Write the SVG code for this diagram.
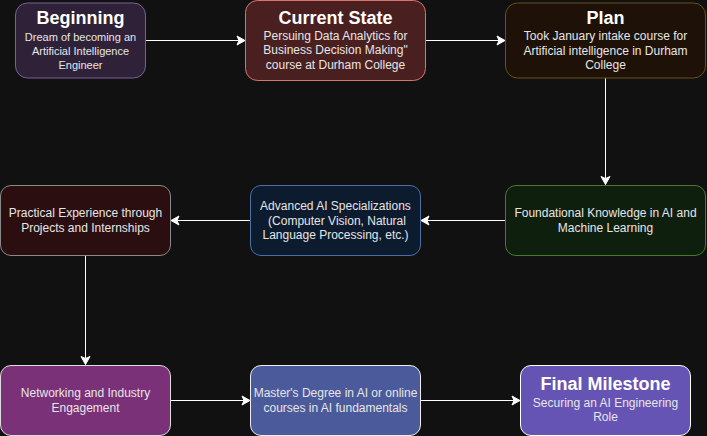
<svg xmlns="http://www.w3.org/2000/svg" width="707" height="436" viewBox="0 0 707 436">
<defs>
<marker id="arr" markerUnits="userSpaceOnUse" markerWidth="12" markerHeight="12" viewBox="-9 -6 12 12" refX="0" refY="0" orient="auto">
<path d="M0,0 L-8,-4.5 L-6,0 L-8,4.5 Z" fill="#ffffff" stroke="#ffffff" stroke-width="1" stroke-linejoin="miter"/>
</marker>
<style>
text{font-family:"Liberation Sans",Arial,Helvetica,sans-serif;text-anchor:middle}
.t{font-size:18px;font-weight:bold;fill:#ffffff}
.s{font-size:12px;fill:#e6e6e6}
.s11{font-size:11px;fill:#e6e6e6}
.c line{stroke:#ffffff;stroke-width:1;fill:none;marker-end:url(#arr)}
rect{stroke-width:1}
</style>
</defs>
<rect x="0" y="0" width="707" height="436" fill="#111111"/>
<g class="c" id="connectors">
<line x1="145.5" y1="40.5" x2="245" y2="40.5"/>
<line x1="425.5" y1="40.5" x2="505" y2="40.5"/>
<line x1="605.5" y1="78" x2="605.5" y2="184.5"/>
<line x1="505.5" y1="220.5" x2="421" y2="220.5"/>
<line x1="250.5" y1="220.5" x2="171" y2="220.5"/>
<line x1="85.5" y1="255.5" x2="85.5" y2="364.5"/>
<line x1="170.5" y1="400.5" x2="250" y2="400.5"/>
<line x1="420.5" y1="400.5" x2="520" y2="400.5"/>
</g>
<g id="n1">
<rect x="15.5" y="3" width="130" height="75" rx="12" fill="#2f2238" stroke="#7d5e9a"/>
<text class="t" x="80.5" y="24">Beginning</text>
<text class="s11" x="80.5" y="40.5">Dream of becoming an</text>
<text class="s11" x="80.5" y="54.8">Artificial Intelligence</text>
<text class="s11" x="80.5" y="69">Engineer</text>
</g>
<g id="n2">
<rect x="245.5" y="0.5" width="180" height="80" rx="12" fill="#4a1f1f" stroke="#d8736e"/>
<text class="t" x="335.5" y="23.5">Current State</text>
<text class="s" x="335.5" y="39.5">Persuing Data Analytics for</text>
<text class="s" x="335.5" y="54">Business Decision Making"</text>
<text class="s" x="335.5" y="68.7">course at Durham College</text>
</g>
<g id="n3">
<rect x="505.5" y="3" width="200" height="75" rx="12" fill="#1e1208" stroke="#6b4f14"/>
<text class="t" x="605.5" y="24">Plan</text>
<text class="s" x="605.5" y="40">Took January intake course for</text>
<text class="s" x="605.5" y="54.5">Artificial intelligence in Durham</text>
<text class="s" x="605.5" y="69">College</text>
</g>
<g id="n4">
<rect x="0.5" y="185.5" width="170" height="70" rx="10.5" fill="#2a0e10" stroke="#8a8a8a"/>
<text class="s" x="85.5" y="217">Practical Experience through</text>
<text class="s" x="85.5" y="231.5">Projects and Internships</text>
</g>
<g id="n5">
<rect x="250.5" y="185.5" width="170" height="70" rx="10.5" fill="#0d1b2e" stroke="#4a6fa5"/>
<text class="s" x="335.5" y="210">Advanced AI Specializations</text>
<text class="s" x="337" y="224.5">(Computer Vision, Natural</text>
<text class="s" x="335.5" y="239">Language Processing, etc.)</text>
</g>
<g id="n6">
<rect x="505.5" y="185.5" width="200" height="70" rx="10.5" fill="#0f1f0e" stroke="#477a2c"/>
<text class="s" x="605.5" y="217">Foundational Knowledge in AI and</text>
<text class="s" x="605.5" y="231.5">Machine Learning</text>
</g>
<g id="n7">
<rect x="0.5" y="365.5" width="170" height="70" rx="10.5" fill="#7b3178" stroke="#dddddd"/>
<text class="s" x="85.5" y="397">Networking and Industry</text>
<text class="s" x="85.5" y="411.5">Engagement</text>
</g>
<g id="n8">
<rect x="250.5" y="365.5" width="170" height="70" rx="10.5" fill="#4b5a9b" stroke="#eeeeee"/>
<text class="s" x="335.5" y="397">Master's Degree in AI or online</text>
<text class="s" x="335.5" y="411.5">courses in AI fundamentals</text>
</g>
<g id="n9">
<rect x="520.5" y="365.5" width="170" height="70" rx="10.5" fill="#6654b4" stroke="#ffffff"/>
<text class="t" x="605.5" y="390">Final Milestone</text>
<text class="s" x="605.5" y="407">Securing an AI Engineering</text>
<text class="s" x="605.5" y="421">Role</text>
</g>
</svg>
